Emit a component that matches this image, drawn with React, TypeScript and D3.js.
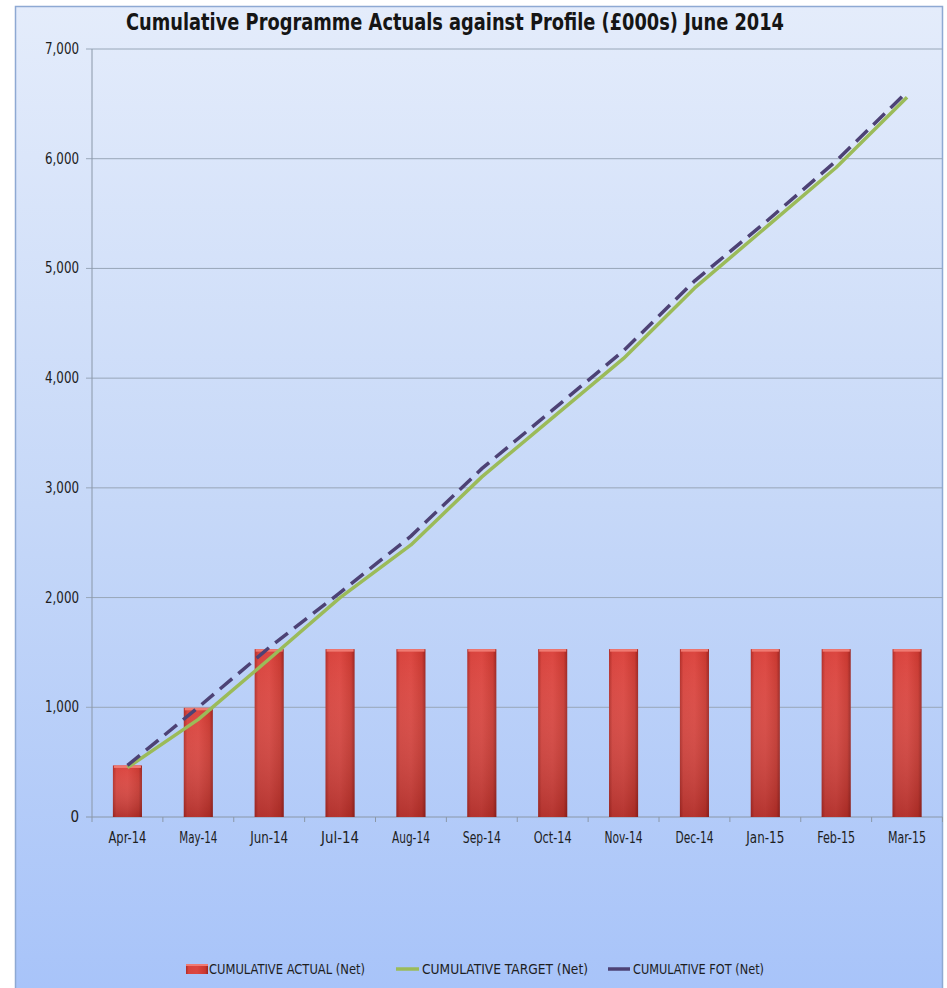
import React from "react";
import * as d3 from "d3";

const months = ["Apr-14","May-14","Jun-14","Jul-14","Aug-14","Sep-14","Oct-14","Nov-14","Dec-14","Jan-15","Feb-15","Mar-15"];
const actual = [470, 995, 1530, 1530, 1530, 1530, 1530, 1530, 1530, 1530, 1530, 1530];
const target = [450, 890, 1440, 2000, 2480, 3100, 3640, 4180, 4820, 5370, 5920, 6560];
const fot = [470, 1000, 1545, 2045, 2560, 3175, 3710, 4250, 4885, 5420, 5980, 6610];
const yTicks = [0, 1000, 2000, 3000, 4000, 5000, 6000, 7000];
const legendItems = ["CUMULATIVE ACTUAL (Net)", "CUMULATIVE TARGET (Net)", "CUMULATIVE FOT (Net)"];

const W = 947, H = 988;
const FONT = "'Liberation Sans Narrow', 'DejaVu Sans Condensed', 'Open Sans', sans-serif";

export default function App() {
  const left = 92, right = 942.5, top = 49, bottom = 817;
  const x = d3.scaleBand<string>().domain(months).range([left, right]).paddingInner(0.59).paddingOuter(0.295);
  const xb = d3.scaleBand<string>().domain(months).range([left, right]);
  const y = d3.scaleLinear().domain([0, 7000]).range([bottom, top]);
  const cx = (m: string) => (xb(m) as number) + xb.bandwidth() / 2;
  const line = d3.line<number>().x((_, i) => cx(months[i])).y((v) => y(v));
  const fmt = d3.format(",");

  return (
    <svg width={W} height={H} style={{ position: "absolute", left: 0, top: 0 }} fontFamily={FONT}>
      <defs>
        <linearGradient id="bg" x1="0" y1="0" x2="0" y2="1">
          <stop offset="0" stopColor="#e4ecfb" />
          <stop offset="0.5" stopColor="#c6d8f8" />
          <stop offset="1" stopColor="#a7c3f9" />
        </linearGradient>
        <linearGradient id="bar" x1="0" y1="0" x2="1" y2="0">
          <stop offset="0" stopColor="#b02c27" />
          <stop offset="0.12" stopColor="#d8433d" />
          <stop offset="0.5" stopColor="#dc4640" />
          <stop offset="0.88" stopColor="#c9372f" />
          <stop offset="1" stopColor="#9a2420" />
        </linearGradient>
        <linearGradient id="barv" x1="0" y1="0" x2="0" y2="1">
          <stop offset="0" stopColor="#ffffff" stopOpacity="0" />
          <stop offset="1" stopColor="#5a0d0b" stopOpacity="0.3" />
        </linearGradient>
      </defs>
      <rect x={0} y={0} width={W} height={H} fill="#ffffff" />
      <rect x={15.5} y={6.5} width={927} height={H + 10} fill="url(#bg)" stroke="#8ea9d3" strokeWidth={1.5} />

      {/* title */}
      <text x={455} y={30} textAnchor="middle" fontSize={23} fontWeight="bold" fill="#151515"
        textLength={658} lengthAdjust="spacingAndGlyphs">
        Cumulative Programme Actuals against Profile (£000s) June 2014
      </text>

      {/* gridlines */}
      {yTicks.map((t) => (
        <g key={t}>
          <line x1={left - 6} x2={right} y1={y(t)} y2={y(t)} stroke={t === 0 ? "#8a97a8" : "#98a6b8"} strokeWidth={1} />
          <text x={79} y={y(t) + 5} textAnchor="end" fontSize={15} fill="#1e1e1e"
            textLength={t === 0 ? undefined : 34} lengthAdjust="spacingAndGlyphs">{fmt(t)}</text>
        </g>
      ))}
      <line x1={left} x2={left} y1={top} y2={bottom} stroke="#8a97a8" strokeWidth={1} />

      {/* x ticks */}
      {months.map((m) => (
        <line key={"t" + m} x1={xb(m) as number} x2={xb(m) as number} y1={bottom} y2={bottom + 5} stroke="#8a97a8" />
      ))}
      <line x1={right} x2={right} y1={bottom} y2={bottom + 5} stroke="#8a97a8" />

      {/* bars */}
      {months.map((m, i) => (
        <g key={"b" + m}>
          <rect x={x(m)} y={y(actual[i])} width={x.bandwidth()} height={bottom - y(actual[i])} fill="url(#bar)" />
          <rect x={x(m)} y={y(actual[i])} width={x.bandwidth()} height={bottom - y(actual[i])} fill="url(#barv)" />
          <rect x={(x(m) as number) + 1} y={y(actual[i])} width={x.bandwidth() - 2} height={2.5} fill="#f07a72" />
        </g>
      ))}

      {/* lines */}
      <path d={line(target) as string} fill="none" stroke="#9bbb59" strokeWidth={3.5} strokeLinejoin="round" />
      <path d={line(fot) as string} fill="none" stroke="#4d4275" strokeWidth={3.5} strokeDasharray="16 8" />

      {/* x labels */}
      {months.map((m) => (
        <text key={"l" + m} x={cx(m)} y={843} textAnchor="middle" fontSize={15} fill="#1e1e1e"
          textLength={38} lengthAdjust="spacingAndGlyphs">{m}</text>
      ))}

      {/* legend */}
      <g fontSize={14} fill="#1e1e1e">
        <rect x={186} y={964} width={22} height={10} fill="url(#bar)" />
        <rect x={186} y={964} width={22} height={2} fill="#f07a72" />
        <text x={209} y={974} textLength={156} lengthAdjust="spacingAndGlyphs">{legendItems[0]}</text>
        <line x1={396} x2={419} y1={969} y2={969} stroke="#9bbb59" strokeWidth={3.5} />
        <text x={422} y={974} textLength={166} lengthAdjust="spacingAndGlyphs">{legendItems[1]}</text>
        <line x1={608} x2={630} y1={969} y2={969} stroke="#4d4275" strokeWidth={3.5} />
        <text x={633} y={974} textLength={131} lengthAdjust="spacingAndGlyphs">{legendItems[2]}</text>
      </g>
    </svg>
  );
}
